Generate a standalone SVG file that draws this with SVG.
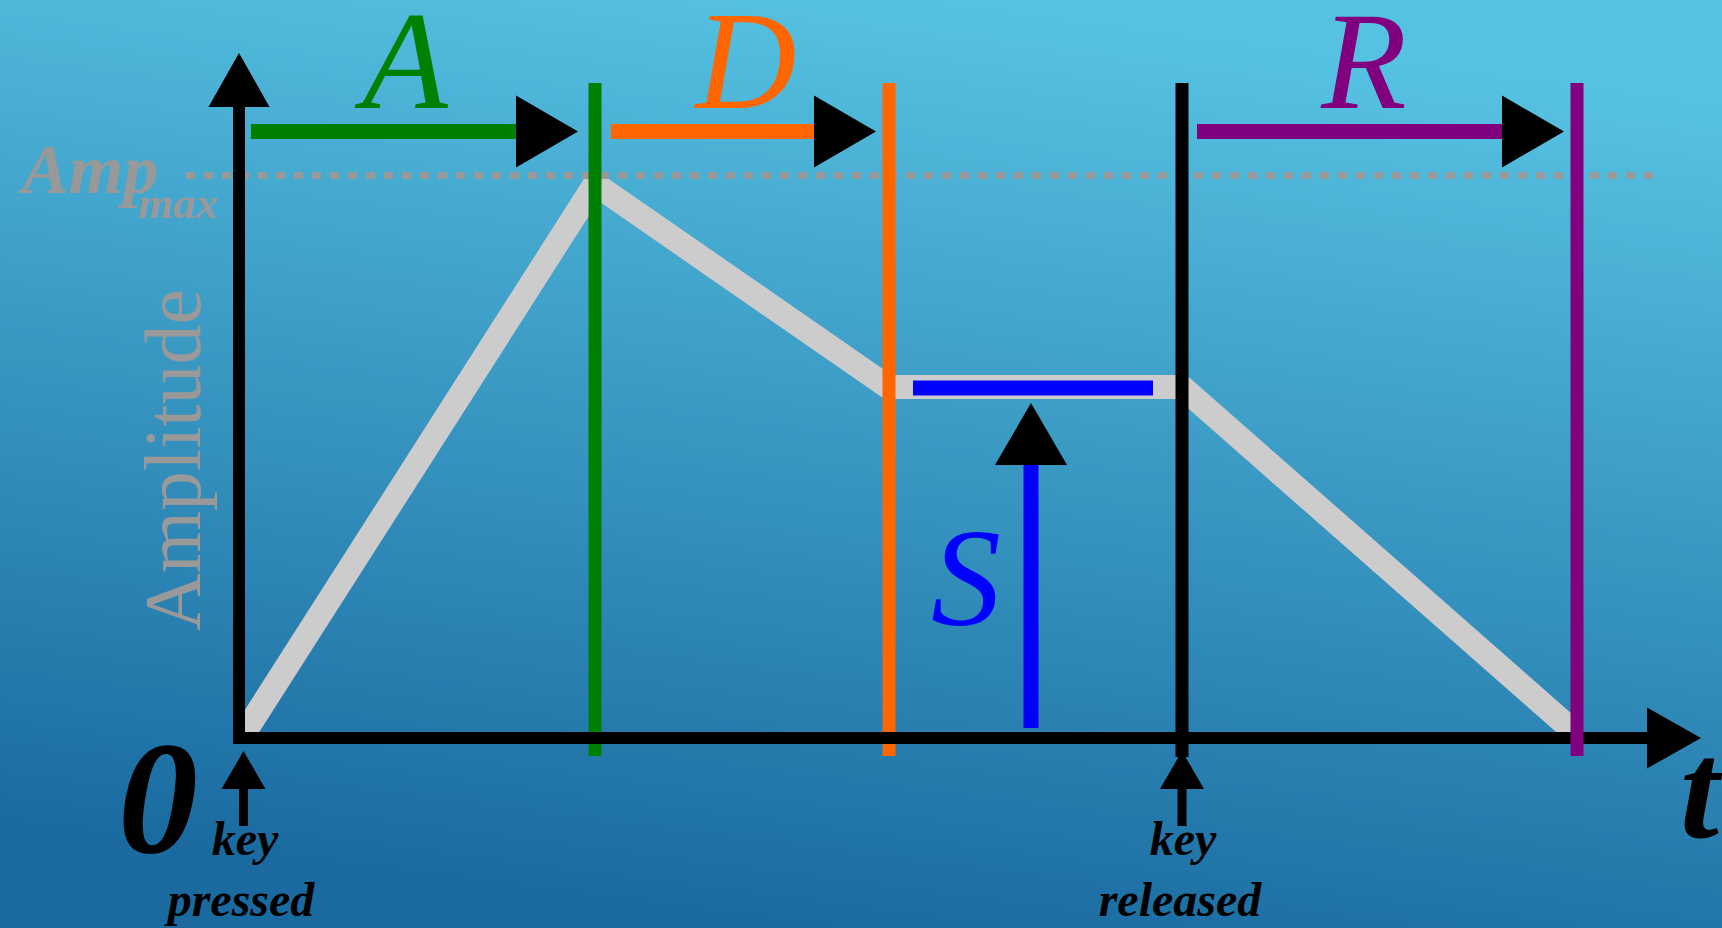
<svg xmlns="http://www.w3.org/2000/svg" width="1722" height="928" viewBox="0 0 1722 928">
  <defs>
    <linearGradient id="bg" gradientUnits="userSpaceOnUse" x1="900" y1="0" x2="780" y2="928">
      <stop offset="0" stop-color="#56c2e2"/>
      <stop offset="1" stop-color="#1a6aa0"/>
    </linearGradient>
    <marker id="spanHead" markerUnits="userSpaceOnUse" markerWidth="64" markerHeight="74" viewBox="0 -37 64 74" refX="0" refY="0" orient="auto" overflow="visible">
      <path d="M0,-36 L62,0 L0,36 Z" fill="#000"/>
    </marker>
    <marker id="axisHead" markerUnits="userSpaceOnUse" markerWidth="56" markerHeight="64" viewBox="0 -32 56 64" refX="0" refY="0" orient="auto" overflow="visible">
      <path d="M0,-30.5 L54,0 L0,30.5 Z" fill="#000"/>
    </marker>
    <marker id="keyHead" markerUnits="userSpaceOnUse" markerWidth="40" markerHeight="46" viewBox="0 -23 40 46" refX="0" refY="0" orient="auto" overflow="visible">
      <path d="M0,-22 L38,0 L0,22 Z" fill="#000"/>
    </marker>
  </defs>
  <style>
    .serif { font-family: "Liberation Serif", "Times New Roman", serif; }
    .bi { font-family: "Liberation Serif", "Times New Roman", serif; font-weight: bold; font-style: italic; }
    .it { font-family: "Liberation Serif", "Times New Roman", serif; font-style: italic; }
    .envelope { fill: none; stroke: #cccccc; stroke-width: 24; stroke-linejoin: bevel; }
    .vline { stroke-width: 13; fill: none; }
    .span { stroke-width: 15; fill: none; marker-end: url(#spanHead); }
    .axis { stroke: #000; stroke-width: 12; fill: none; marker-end: url(#axisHead); }
    .keyarrow { stroke: #000; stroke-width: 9; fill: none; marker-end: url(#keyHead); }
    .small { font-size: 48px; fill: #000; }
    .big { font-size: 140px; }
  </style>

  <rect x="0" y="0" width="1722" height="928" fill="url(#bg)"/>

  <g id="envelope">
    <polyline class="envelope" points="245,732 595,184 888,387 1182,387 1572,730"/>
  </g>

  <g id="amp-max">
    <line x1="186" y1="175.5" x2="1656" y2="175.5" stroke="#999999" stroke-width="7" stroke-dasharray="9 9"/>
    <text class="bi" x="22" y="193" font-size="70" fill="#999999">Amp</text>
    <text class="bi" x="138" y="218" font-size="45" fill="#999999">max</text>
  </g>

  <g id="sustain-level">
    <line x1="913" y1="388" x2="1153" y2="388" stroke="#0000ff" stroke-width="15"/>
  </g>

  <g id="boundaries">
    <line class="vline" x1="595" y1="83" x2="595" y2="756" stroke="#008000"/>
    <line class="vline" x1="889" y1="83" x2="889" y2="756" stroke="#ff6600"/>
    <line class="vline" x1="1182" y1="83" x2="1182" y2="757" stroke="#000000"/>
  </g>

  <g id="axes">
    <line class="axis" x1="239" y1="744" x2="239" y2="107"/>
    <line class="axis" x1="233" y1="738" x2="1647" y2="738"/>
  </g>

  <g id="release-end">
    <line class="vline" x1="1577" y1="83" x2="1577" y2="756" stroke="#800080"/>
  </g>

  <g id="amplitude-label">
    <text class="serif" x="0" y="0" font-size="80" fill="#999999" text-anchor="middle" transform="translate(200,460) rotate(-90)">Amplitude</text>
  </g>

  <g id="connectors">
    <line class="span" x1="251" y1="131.5" x2="516" y2="131.5" stroke="#008000"/>
    <line class="span" x1="611" y1="131.5" x2="814" y2="131.5" stroke="#ff6600"/>
    <line class="span" x1="1197" y1="131.5" x2="1502" y2="131.5" stroke="#800080"/>
    <line class="span" x1="1031" y1="728" x2="1031" y2="465" stroke="#0000ff"/>
    <line class="keyarrow" x1="243.5" y1="826" x2="243.5" y2="789"/>
    <line class="keyarrow" x1="1182" y1="826" x2="1182" y2="789"/>
  </g>

  <g id="attack">
    <text class="it big" x="405" y="108" fill="#008000" text-anchor="middle">A</text>
  </g>
  <g id="decay">
    <text class="it big" x="746" y="108" fill="#ff6600" text-anchor="middle">D</text>
  </g>
  <g id="sustain">
    <text class="it big" x="966" y="625" fill="#0000ff" text-anchor="middle">S</text>
  </g>
  <g id="release">
    <text class="it big" x="1364" y="108" fill="#800080" text-anchor="middle">R</text>
  </g>

  <g id="origin">
    <text class="bi" x="118" y="852" font-size="160" fill="#000">0</text>
  </g>
  <g id="time-label">
    <text class="bi" x="1680" y="837" font-size="140" fill="#000">t</text>
  </g>

  <g id="key-pressed">
    <text class="bi small" x="245" y="855" text-anchor="middle">key</text>
    <text class="bi small" x="241" y="916" text-anchor="middle">pressed</text>
  </g>
  <g id="key-released">
    <text class="bi small" x="1183" y="855" text-anchor="middle">key</text>
    <text class="bi small" x="1180" y="916" text-anchor="middle">released</text>
  </g>
</svg>
